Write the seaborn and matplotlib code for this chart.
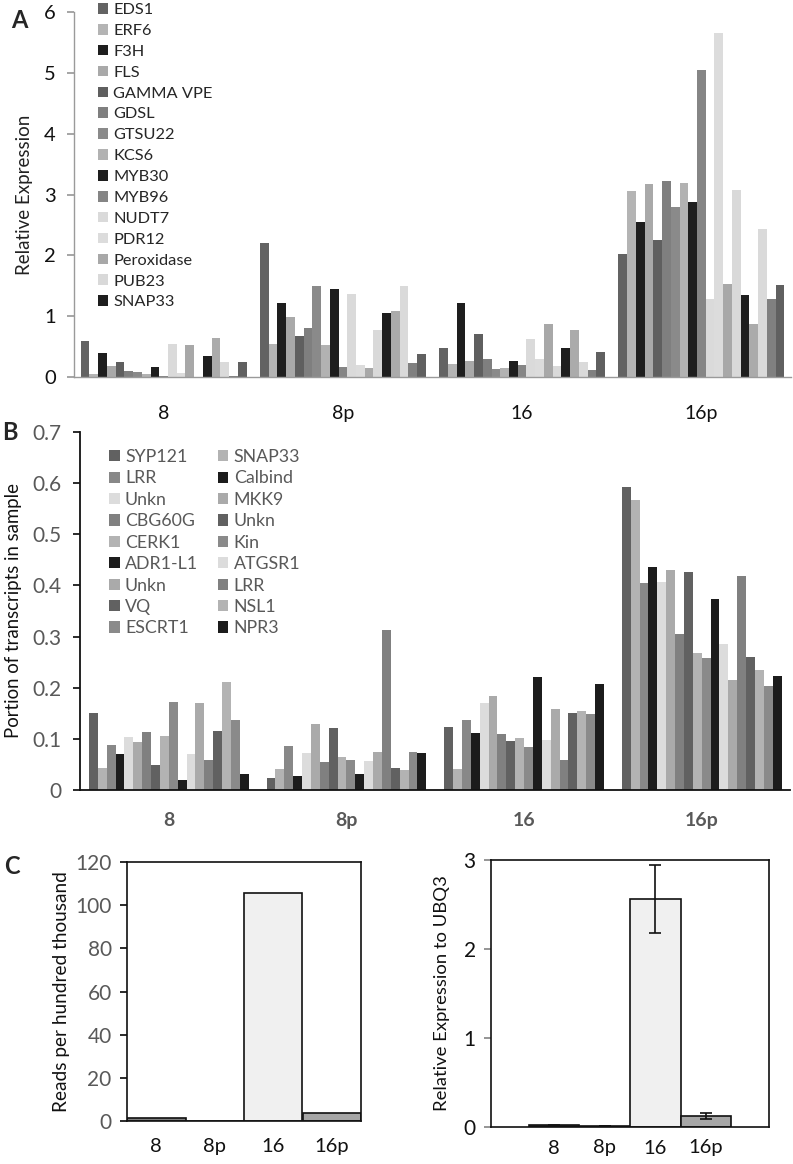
import numpy as np
import pandas as pd
import matplotlib
matplotlib.use("Agg")
import matplotlib.pyplot as plt
from matplotlib.patches import Patch
import seaborn as sns

# ---------------- data ----------------
groups = ["8", "8p", "16", "16p"]

# Panel A: 19 series (legend shows only the first 15 names)
a_names = ["EDS1", "ERF6", "F3H", "FLS", "GAMMA VPE", "GDSL", "GTSU22", "KCS6",
           "MYB30", "MYB96", "NUDT7", "PDR12", "Peroxidase", "PUB23", "SNAP33"]
a_colors = ["#636363", "#b4b4b4", "#1e1e1e", "#a9a9a9", "#5f5f5f", "#7f7f7f", "#8a8a8a",
            "#b2b2b2", "#1e1e1e", "#858585", "#dadada", "#dcdcdc", "#a8a8a8", "#d9d9d9",
            "#1e1e1e", "#ababab", "#dadada", "#808080", "#606060"]
a_8 = [0.60, 0.05, 0.39, 0.18, 0.25, 0.10, 0.08, 0.05, 0.17, 0.02, 0.54, 0.07, 0.52, 0.00,
       0.34, 0.64, 0.24, 0.02, 0.25]
a_8p = [2.21, 0.54, 1.21, 0.98, 0.68, 0.81, 1.50, 0.52, 1.44, 0.17, 1.36, 0.19, 0.15, 0.77,
        1.06, 1.09, 1.50, 0.23, 0.38]
a_16 = [0.48, 0.22, 1.22, 0.27, 0.71, 0.29, 0.13, 0.15, 0.26, 0.20, 0.62, 0.29, 0.87, 0.18,
        0.47, 0.77, 0.25, 0.11, 0.41]
a_16p = [2.02, 3.05, 2.54, 3.18, 2.26, 3.23, 2.79, 3.19, 2.87, 5.04, 1.29, 5.65, 1.53, 3.07,
         1.34, 0.87, 2.43, 1.28, 1.51]

# Panel B: 18 series, in plotting order
b_names = ["SYP121", "SNAP33", "LRR", "Calbind", "Unkn", "MKK9", "CBG60G", "Unkn", "CERK1",
           "Kin", "ADR1-L1", "ATGSR1", "Unkn", "LRR", "VQ", "NSL1", "ESCRT1", "NPR3"]
b_colors = ["#616161", "#b3b3b3", "#888888", "#1c1c1c", "#dcdcdc", "#aaaaaa", "#808080",
            "#616161", "#b3b3b3", "#8a8a8a", "#1c1c1c", "#dcdcdc", "#aaaaaa", "#808080",
            "#616161", "#b3b3b3", "#8a8a8a", "#1c1c1c"]
b_8 = [0.151, 0.043, 0.088, 0.071, 0.103, 0.094, 0.114, 0.049, 0.105, 0.172, 0.020, 0.070,
       0.171, 0.059, 0.116, 0.212, 0.137, 0.031]
b_8p = [0.023, 0.041, 0.086, 0.028, 0.073, 0.130, 0.055, 0.122, 0.065, 0.058, 0.031, 0.057,
        0.074, 0.313, 0.043, 0.039, 0.075, 0.073]
b_16 = [0.123, 0.041, 0.136, 0.112, 0.171, 0.183, 0.110, 0.096, 0.101, 0.084, 0.221, 0.098,
        0.159, 0.058, 0.150, 0.155, 0.149, 0.208]
b_16p = [0.592, 0.567, 0.405, 0.437, 0.407, 0.431, 0.305, 0.426, 0.267, 0.259, 0.374, 0.286,
         0.216, 0.418, 0.260, 0.234, 0.203, 0.223]

# Panel C
c_reads = [1.2, 0.2, 105.6, 3.6]
c_reads_colors = ["#7f7f7f", "#404040", "#f0f0f0", "#a6a6a6"]
c_rel = [0.02, 0.01, 2.56, 0.12]
c_rel_err = [0.004, 0.004, 0.38, 0.035]
c_rel_colors = ["#303030", "#303030", "#f0f0f0", "#a6a6a6"]

# ---------------- style ----------------
sns.set_theme(style="white")
plt.rcParams["font.family"] = ["Lato", "DejaVu Sans"]
W, H = 793, 1164
fig = plt.figure(figsize=(W / 100, H / 100), dpi=100)


def rect(x0, y0, x1, y1):
    return [x0 / W, 1 - y1 / H, (x1 - x0) / W, (y1 - y0) / H]


def long_df(vals_by_group, n):
    rows = []
    for g, vals in zip(groups, vals_by_group):
        for i in range(n):
            rows.append({"group": g, "series": f"s{i}", "value": vals[i]})
    return pd.DataFrame(rows)

GRAY_TXT = "#595959"

# ---------------- Panel A ----------------
axA = fig.add_axes(rect(74, 12, 791, 377))
nA = len(a_colors)
dfA = long_df([a_8, a_8p, a_16, a_16p], nA)
sns.barplot(data=dfA, x="group", y="value", hue="series", order=groups,
            hue_order=[f"s{i}" for i in range(nA)],
            palette={f"s{i}": c for i, c in enumerate(a_colors)},
            width=0.927, saturation=1, linewidth=0, errorbar=None, legend=False, ax=axA)
axA.set_xlim(-0.5, 3.5)
axA.set_ylim(0, 6)
axA.set_yticks(range(0, 7))
axA.set_xlabel("")
axA.set_ylabel("Relative Expression", fontsize=13.5, color="#222222", labelpad=8)
for s in ["top", "right"]:
    axA.spines[s].set_visible(False)
for s in ["left", "bottom"]:
    axA.spines[s].set_color("#9a9a9a")
    axA.spines[s].set_linewidth(1.0)
axA.tick_params(axis="y", left=True, length=5, color="#9a9a9a", labelsize=14.5,
                labelcolor="#111111", pad=8)
axA.tick_params(axis="x", bottom=False, labelsize=14, labelcolor="#111111", pad=14)
handlesA = [Patch(facecolor=a_colors[i], edgecolor="none") for i in range(len(a_names))]
fig.legend(handlesA, a_names, loc="upper left", bbox_to_anchor=(98 / W, 1 - 3 / H),
           frameon=False, fontsize=11.8, handlelength=0.62, handleheight=0.62,
           handletextpad=0.3, labelspacing=0.415, borderaxespad=0, borderpad=0.0)
fig.text(19 / W, 1 - 21 / H, "A", fontsize=17, fontweight="bold", ha="center", va="center")

# ---------------- Panel B ----------------
axB = fig.add_axes(rect(80, 432, 790.5, 790))
nB = len(b_colors)
dfB = long_df([b_8, b_8p, b_16, b_16p], nB)
sns.barplot(data=dfB, x="group", y="value", hue="series", order=groups,
            hue_order=[f"s{i}" for i in range(nB)],
            palette={f"s{i}": c for i, c in enumerate(b_colors)},
            width=0.9, saturation=1, linewidth=0, errorbar=None, legend=False, ax=axB)
axB.set_xlim(-0.5, 3.5)
axB.set_ylim(0, 0.7)
axB.set_yticks(np.arange(0, 0.71, 0.1))
axB.set_yticklabels(["0", "0.1", "0.2", "0.3", "0.4", "0.5", "0.6", "0.7"])
axB.set_xlabel("")
axB.set_ylabel("Portion of transcripts in sample", fontsize=13.4, color="#111111", labelpad=8)
for s in ["top", "right"]:
    axB.spines[s].set_visible(False)
for s in ["left", "bottom"]:
    axB.spines[s].set_color("#111111")
    axB.spines[s].set_linewidth(1.3)
axB.tick_params(axis="y", left=True, length=5, color="#111111", labelsize=15,
                labelcolor=GRAY_TXT, pad=8)
axB.tick_params(axis="x", bottom=False, labelsize=14, labelcolor=GRAY_TXT, pad=10)
for t in axB.get_xticklabels():
    t.set_fontweight("bold")
# legend: two columns filled row-wise (reorder for matplotlib's column-major fill)
order = list(range(0, nB, 2)) + list(range(1, nB, 2))
handlesB = [Patch(facecolor=b_colors[i], edgecolor="none") for i in order]
labelsB = [b_names[i] for i in order]
fig.legend(handlesB, labelsB, ncol=2, loc="upper left", bbox_to_anchor=(109 / W, 1 - 449 / H),
           frameon=False, fontsize=12.8, handlelength=0.6, handleheight=0.6,
           handletextpad=0.3, labelspacing=0.305, columnspacing=1.1, borderaxespad=0,
           borderpad=0.0, labelcolor=GRAY_TXT)
fig.text(10 / W, 1 - 432 / H, "B", fontsize=17, fontweight="bold", ha="center", va="center")

# ---------------- Panel C left ----------------
axC1 = fig.add_axes(rect(127, 862, 361, 1121))
dfC1 = pd.DataFrame({"group": groups, "value": c_reads})
sns.barplot(data=dfC1, x="group", y="value", hue="group", order=groups, hue_order=groups,
            palette=dict(zip(groups, c_reads_colors)), width=1.0, saturation=1,
            edgecolor="#111111", linewidth=1.2, errorbar=None, legend=False, ax=axC1)
axC1.set_xlim(-0.5, 3.5)
axC1.set_ylim(0, 120)
axC1.set_yticks(range(0, 121, 20))
axC1.set_xlabel("")
axC1.set_ylabel("Reads per hundred thousand", fontsize=13.7, color="#111111", labelpad=4)
for s in axC1.spines.values():
    s.set_visible(True)
    s.set_color("#111111")
    s.set_linewidth(1.2)
axC1.tick_params(axis="y", left=True, length=5, color="#111111", labelsize=15,
                 labelcolor=GRAY_TXT, pad=6)
axC1.tick_params(axis="x", bottom=False, labelsize=14.5, labelcolor="#111111", pad=6)
fig.text(12 / W, 1 - 866 / H, "C", fontsize=17, fontweight="bold", ha="center", va="center")

# ---------------- Panel C right ----------------
axC2 = fig.add_axes(rect(491, 860, 769, 1127))
dfC2 = pd.DataFrame({"group": groups, "value": c_rel})
sns.barplot(data=dfC2, x="group", y="value", hue="group", order=groups, hue_order=groups,
            palette=dict(zip(groups, c_rel_colors)), width=1.0, saturation=1,
            edgecolor="#111111", linewidth=1.2, errorbar=None, legend=False, ax=axC2)
axC2.errorbar(range(len(groups)), c_rel, yerr=c_rel_err, fmt="none", ecolor="#111111",
              elinewidth=1.2, capsize=4, capthick=1.2)
axC2.set_xlim(-1.25, 4.25)
axC2.set_ylim(0, 3)
axC2.set_yticks([0, 1, 2, 3])
axC2.set_xlabel("")
axC2.set_ylabel("Relative Expression to UBQ3", fontsize=13.3, color="#111111", labelpad=10)
for s in axC2.spines.values():
    s.set_visible(True)
    s.set_color("#111111")
    s.set_linewidth(1.2)
axC2.tick_params(axis="y", left=True, length=5, color="#888888", labelsize=15,
                 labelcolor="#111111", pad=6)
axC2.tick_params(axis="x", bottom=False, labelsize=14.5, labelcolor="#111111", pad=3)

fig.savefig("out.png", dpi=100)
